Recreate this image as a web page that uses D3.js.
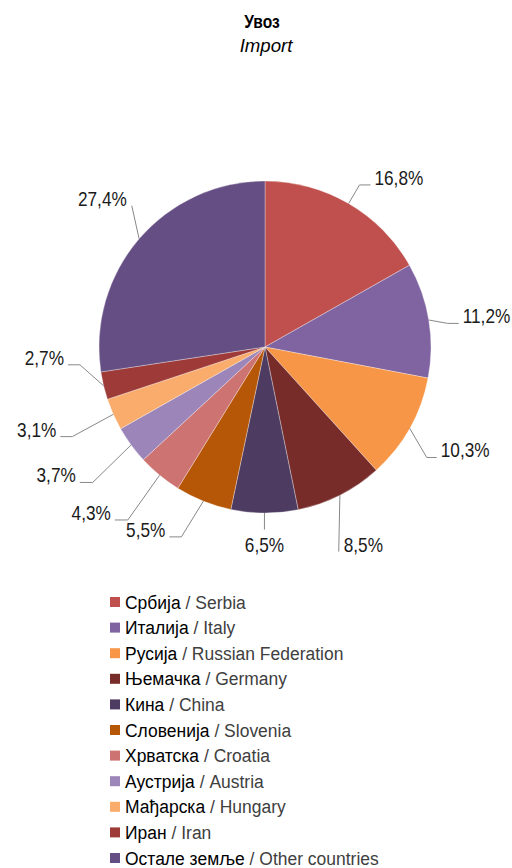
<!DOCTYPE html>
<html>
<head>
<meta charset="utf-8">
<script src="https://cdn.jsdelivr.net/npm/d3@7"></script>
<style>
  html, body { margin: 0; padding: 0; background: #fff; }
  svg { display: block; }
  text { font-family: "Liberation Sans", Arial, sans-serif; }
</style>
</head>
<body>
<svg id="chart" width="512" height="868"></svg>
<script>
// ---- data ----
const categoriesSr = ["Србија", "Италија", "Русија", "Њемачка", "Кина", "Словенија", "Хрватска", "Аустрија", "Мађарска", "Иран", "Остале земље"];
const categoriesEn = ["Serbia", "Italy", "Russian Federation", "Germany", "China", "Slovenia", "Croatia", "Austria", "Hungary", "Iran", "Other countries"];
const shares = [16.8, 11.2, 10.3, 8.5, 6.5, 5.5, 4.3, 3.7, 3.1, 2.7, 27.4];
const sliceColors = ["#C0504D", "#8064A2", "#F79646", "#772C2A", "#4D3B62", "#B65708", "#CD7371", "#9C85B8", "#F9AC6B", "#9E3B39", "#654E83"];
const titleSr = "Увоз";
const titleEn = "Import";

// ---- label layout (leader elbow: angle nudge in degrees, elbow radius factor, horizontal segment, mode) ----
const labelNudge = [0, 2, 5, 7, 0, 2, -1, -2, -1, 8, 6];
const labelRadiusFactor = [1.13, 1.11, 1.18, 1.31, 1.10, 1.25, 1.33, 1.32, 1.28, 1.12, 1.17];
const labelSegment = [11, 11, 10, 0, 0, 12, 13, 13, 12, 12, 0];
const labelMode = ["side", "side", "side", "side", "below", "side", "side", "side", "side", "side", "side"];

const svg = d3.select("#chart");
const cx = 265, cy = 347, r = 166;

function narrowText(parent, x, y, anchor, size, sx) {
  const gg = parent.append("g").attr("transform", `translate(${x},${y}) scale(${sx},1)`);
  return gg.append("text").attr("x", 0).attr("y", 0).attr("text-anchor", anchor).attr("font-size", size);
}

// title
narrowText(svg, 262, 28, "middle", 19, 0.82).attr("font-weight", "bold").attr("fill", "#000").text(titleSr);
narrowText(svg, 266, 52, "middle", 19, 0.98).attr("font-style", "italic").attr("fill", "#000").text(titleEn);

const data = shares.map((v, i) => ({ v, i }));
const pie = d3.pie().value(d => d.v).sort(null);
const arcs = pie(data);
const arc = d3.arc().innerRadius(0).outerRadius(r);

const g = svg.append("g").attr("transform", `translate(${cx},${cy})`);
g.selectAll("path.slice").data(arcs).join("path")
  .attr("class", "slice")
  .attr("d", arc)
  .attr("fill", d => sliceColors[d.data.i])
  .attr("stroke", "#ffffff")
  .attr("stroke-opacity", 0.45)
  .attr("stroke-width", 0.7);

const fmt = v => d3.format(".1f")(v).replace(".", ",") + "%";
const polar = (ang, rad) => [Math.sin(ang) * rad, -Math.cos(ang) * rad];

arcs.forEach(d => {
  const i = d.data.i;
  const mid = (d.startAngle + d.endAngle) / 2;
  const p0 = polar(mid, r);
  const eAng = mid + labelNudge[i] * Math.PI / 180;
  const p1 = polar(eAng, r * labelRadiusFactor[i]);
  const right = Math.sin(eAng) >= 0;
  const dir = right ? 1 : -1;
  const p2 = [p1[0] + dir * labelSegment[i], p1[1]];
  const pts = [p0, p1];
  if (labelSegment[i] > 0) pts.push(p2);
  g.append("path").attr("d", d3.line()(pts))
    .attr("fill", "none").attr("stroke", "#888").attr("stroke-width", 1);
  let t;
  if (labelMode[i] === "below") {
    t = narrowText(g, p1[0], p1[1] + 22, "middle", 21, 0.82);
  } else {
    t = narrowText(g, p2[0] + dir * (labelSegment[i] > 0 ? 4 : 5), p1[1], right ? "start" : "end", 21, 0.82);
  }
  t.attr("fill", "#1a1a1a").text(fmt(d.data.v));
});

// legend
const legY = d3.scaleLinear().domain([0, categoriesSr.length - 1]).range([602, 858]);
const leg = svg.append("g");
categoriesSr.forEach((c, i) => {
  const y = legY(i);
  leg.append("rect").attr("x", 110).attr("y", y - 5).attr("width", 10).attr("height", 10)
    .attr("fill", sliceColors[i]);
  const t = narrowText(leg, 125, y + 6.5, "start", 19, 0.92);
  t.append("tspan").attr("fill", "#000").text(c);
  t.append("tspan").attr("fill", "#404040").text(" / " + categoriesEn[i]);
});
</script>
</body>
</html>
